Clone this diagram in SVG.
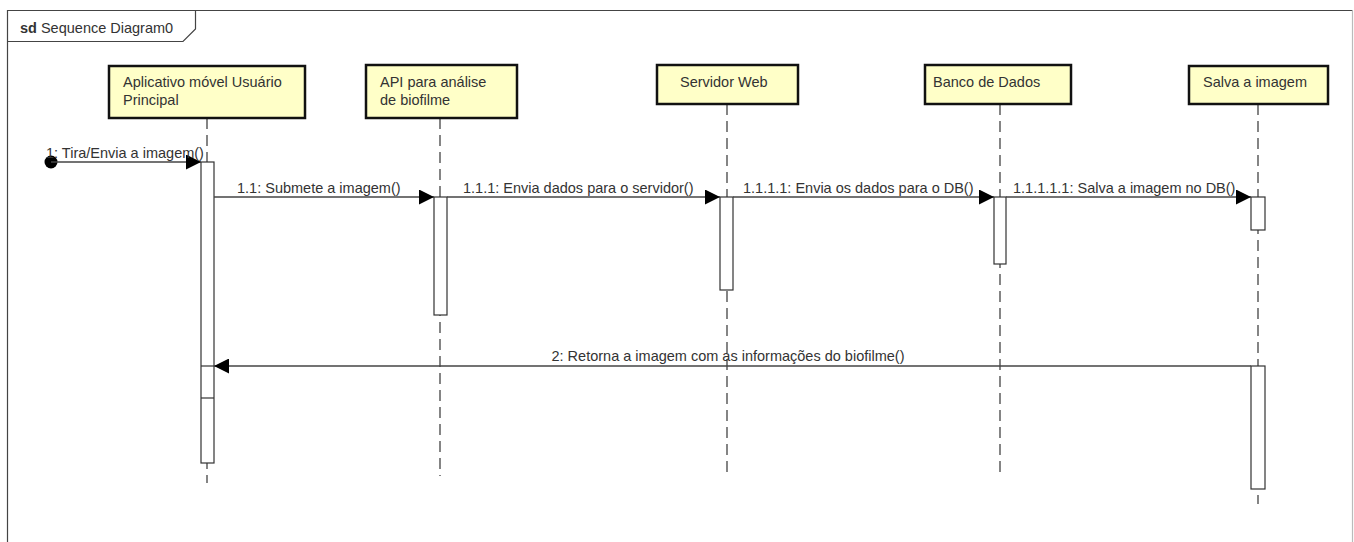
<svg xmlns="http://www.w3.org/2000/svg" width="1354" height="542" viewBox="0 0 1354 542">
  <style>
    text { font-family: "Liberation Sans", Arial, sans-serif; font-size: 14.5px; fill: #333; }
    .head rect { fill: #ffffc8; stroke: #111; stroke-width: 2.5; }
    .life { stroke: #444; stroke-width: 1.3; stroke-dasharray: 11 6; fill: none; }
    .act { fill: #fff; stroke: #333; stroke-width: 1.2; }
    .msg { stroke: #444; stroke-width: 1.3; fill: none; marker-end: url(#arrow); }
  </style>
  <defs>
    <marker id="arrow" markerUnits="userSpaceOnUse" markerWidth="15" markerHeight="15" refX="15" refY="7.5" orient="auto">
      <path d="M0,0 L15,7.5 L0,15 Z" fill="#000"/>
    </marker>
  </defs>
  <rect width="1354" height="542" fill="#fff"/>

  <!-- sd frame -->
  <g id="frame">
    <path d="M7.5,545 V10.5 H1352.5" fill="none" stroke="#444" stroke-width="1.2"/>
    <path d="M1352.5,10.5 V545" fill="none" stroke="#bbb" stroke-width="1.2"/>
    <path d="M7.5,41.5 H183 L195.5,29 V10.5" fill="none" stroke="#444" stroke-width="1.2"/>
    <text x="20" y="33"><tspan font-weight="bold">sd</tspan> Sequence Diagram0</text>
  </g>

  <!-- lifeline: app -->
  <g id="app">
    <line class="life" x1="207" y1="118" x2="207" y2="483"/>
    <g class="head">
      <rect x="109" y="66" width="196" height="52"/>
      <text x="123" y="87">Aplicativo móvel Usuário</text>
      <text x="123" y="105">Principal</text>
    </g>
    <rect class="act" x="201" y="162" width="13" height="301"/>
    <line x1="201" y1="366" x2="214" y2="366" stroke="#333" stroke-width="1.2"/>
    <line x1="201" y1="398" x2="214" y2="398" stroke="#333" stroke-width="1.2"/>
  </g>

  <!-- lifeline: api -->
  <g id="api">
    <line class="life" x1="440" y1="118" x2="440" y2="476"/>
    <g class="head">
      <rect x="366" y="65" width="151" height="53"/>
      <text x="380" y="87">API para análise</text>
      <text x="380" y="105">de biofilme</text>
    </g>
    <rect class="act" x="434" y="197" width="13" height="118"/>
  </g>

  <!-- lifeline: web server -->
  <g id="server">
    <line class="life" x1="727" y1="104" x2="727" y2="476"/>
    <g class="head">
      <rect x="657" y="65" width="141" height="39"/>
      <text x="680" y="87">Servidor Web</text>
    </g>
    <rect class="act" x="720" y="197" width="13" height="93"/>
  </g>

  <!-- lifeline: database -->
  <g id="database">
    <line class="life" x1="1000" y1="104" x2="1000" y2="476"/>
    <g class="head">
      <rect x="925" y="65" width="146" height="39"/>
      <text x="933" y="87">Banco de Dados</text>
    </g>
    <rect class="act" x="994" y="197" width="12" height="67"/>
  </g>

  <!-- lifeline: image store -->
  <g id="store">
    <line class="life" x1="1258" y1="104" x2="1258" y2="504"/>
    <g class="head">
      <rect x="1189" y="66" width="139" height="38"/>
      <text x="1203" y="87">Salva a imagem</text>
    </g>
    <rect class="act" x="1251" y="197" width="14" height="33"/>
    <rect class="act" x="1251" y="366" width="14" height="123"/>
  </g>

  <!-- messages -->
  <g id="connectors">
    <circle cx="51" cy="162" r="6.5" fill="#000"/>
    <line class="msg" x1="51" y1="162" x2="201" y2="162"/>
    <text x="46" y="158">1: Tira/Envia a imagem()</text>

    <line class="msg" x1="214" y1="197" x2="434" y2="197"/>
    <text x="237" y="193">1.1: Submete a imagem()</text>

    <line class="msg" x1="447" y1="197" x2="720" y2="197"/>
    <text x="463" y="193">1.1.1: Envia dados para o servidor()</text>

    <line class="msg" x1="733" y1="197" x2="994" y2="197"/>
    <text x="743" y="193">1.1.1.1: Envia os dados para o DB()</text>

    <line class="msg" x1="1006" y1="197" x2="1251" y2="197"/>
    <text x="1013" y="193">1.1.1.1.1: Salva a imagem no DB()</text>

    <line class="msg" x1="1251" y1="366" x2="214" y2="366"/>
    <text x="728" y="361" text-anchor="middle">2: Retorna a imagem com as informações do biofilme()</text>
  </g>
</svg>
